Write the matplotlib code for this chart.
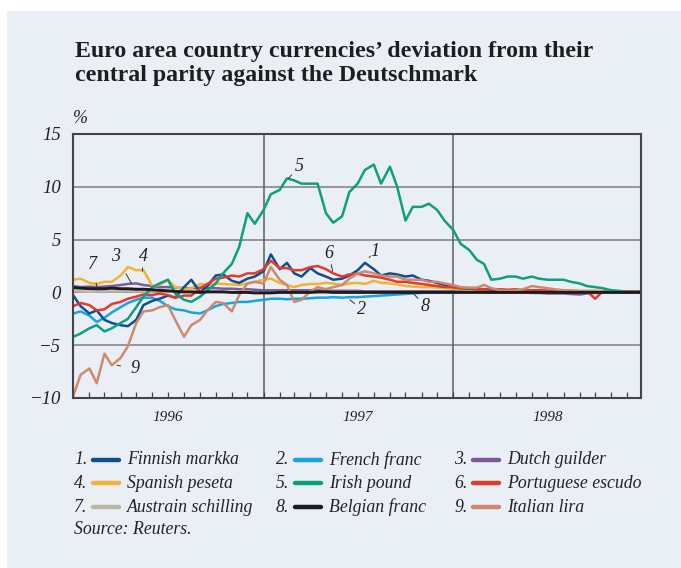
import matplotlib
matplotlib.use("Agg")
import matplotlib.pyplot as plt
import matplotlib.dates as mdates
from matplotlib.patches import Rectangle
import pandas as pd

# Semi-monthly observation dates (1st and 15th of each month)
dates = pd.date_range("1996-01-01", "1999-01-01", freq="SMS")

# Deviation from central parity against the Deutschmark, %
finnish_markka = [
    -0.3, -1.3, -2.0, -1.7, -2.6, -2.9, -3.1, -3.2, -2.6, -1.2,
    -0.8, -0.6, -0.3, -0.5, 0.5, 1.2, 0.0, 0.6, 1.6, 1.7,
    1.1, 0.9, 1.3, 1.5, 2.0, 3.6, 2.2, 2.8, 1.8, 1.5,
    2.3, 1.8, 1.5, 1.2, 1.3, 1.6, 2.1, 2.8, 2.2, 1.6,
    1.8, 1.7, 1.5, 1.6, 1.2, 1.1, 0.9, 0.7, 0.5, 0.4,
    0.35, 0.3, 0.3, 0.25, 0.25, 0.2, 0.2, 0.2, 0.2, 0.15,
    0.15, 0.15, 0.1, 0.1, 0.1, 0.1, 0.05, 0.05, 0.05, 0.05,
    0.05, 0.05, 0.05]
french_franc = [
    -2.0, -1.8, -2.2, -2.8, -2.4, -1.9, -1.4, -1.0, -0.7, -0.5,
    -0.5, -0.8, -1.3, -1.6, -1.7, -1.9, -2.0, -1.7, -1.3, -1.1,
    -1.0, -0.9, -0.9, -0.8, -0.7, -0.6, -0.6, -0.65, -0.6, -0.6,
    -0.55, -0.5, -0.5, -0.45, -0.5, -0.45, -0.45, -0.4, -0.35, -0.3,
    -0.25, -0.2, -0.15, -0.1, -0.05, 0.0, 0.05, 0.05, 0.05, 0.05,
    0.05, 0.05, 0.05, 0.05, 0.05, 0.05, 0.05, 0.05, 0.05, 0.05,
    0.05, 0.05, 0.05, 0.05, 0.05, 0.05, 0.05, 0.05, 0.05, 0.05,
    0.05, 0.05, 0.05]
dutch_guilder = [
    0.6, 0.5, 0.55, 0.5, 0.55, 0.6, 0.7, 0.8, 0.85, 0.7,
    0.6, 0.5, 0.5, 0.45, 0.4, 0.4, 0.45, 0.4, 0.4, 0.35,
    0.35, 0.3, 0.3, 0.25, 0.2, 0.2, 0.2, 0.2, 0.2, 0.2,
    0.2, 0.2, 0.15, 0.15, 0.15, 0.15, 0.15, 0.1, 0.1, 0.1,
    0.1, 0.1, 0.1, 0.1, 0.1, 0.1, 0.1, 0.1, 0.1, 0.1,
    0.05, 0.05, 0.05, 0.0, 0.0, 0.0, 0.0, 0.0, -0.05, -0.05,
    -0.1, -0.1, -0.1, -0.15, -0.2, -0.1, -0.05, 0.0, 0.0, 0.0,
    0.0, 0.0, 0.0]
spanish_peseta = [
    1.2, 1.3, 0.9, 0.8, 1.0, 1.0, 1.6, 2.4, 2.1, 2.1,
    0.6, 0.7, 1.2, 0.5, 0.3, 0.4, 0.8, 0.7, 0.85, 0.8,
    0.75, 0.7, 0.85, 1.0, 1.2, 1.3, 0.9, 0.7, 0.5, 0.7,
    0.8, 0.8, 0.9, 0.85, 0.7, 0.85, 0.9, 0.8, 1.1, 0.9,
    0.85, 0.75, 0.6, 0.55, 0.5, 0.5, 0.45, 0.4, 0.35, 0.3,
    0.3, 0.3, 0.25, 0.25, 0.2, 0.2, 0.2, 0.2, 0.15, 0.15,
    0.15, 0.1, 0.1, 0.1, 0.1, 0.1, 0.05, 0.05, 0.05, 0.05,
    0.05, 0.05, 0.05]
irish_pound = [
    -4.2, -3.9, -3.4, -3.1, -3.7, -3.4, -2.9, -2.5, -1.4, -0.4,
    0.5, 0.85, 1.2, -0.1, -0.7, -0.9, -0.4, 0.2, 0.85, 1.8,
    2.7, 4.3, 7.5, 6.5, 7.8, 9.3, 9.7, 10.8, 10.6, 10.3,
    10.3, 10.3, 7.5, 6.6, 7.2, 9.5, 10.3, 11.6, 12.1, 10.3,
    11.9, 10.0, 6.8, 8.1, 8.1, 8.4, 7.8, 6.8, 5.9, 4.6,
    4.0, 3.1, 2.7, 1.2, 1.3, 1.5, 1.5, 1.3, 1.5, 1.3,
    1.2, 1.2, 1.2, 1.0, 0.85, 0.6, 0.5, 0.4, 0.2, 0.15,
    0.05, 0.05, 0.05]
portuguese_escudo = [
    -1.3, -1.0, -1.2, -1.7, -1.6, -1.1, -0.9, -0.6, -0.4, -0.2,
    -0.25, -0.1, -0.25, -0.5, -0.3, -0.3, 0.4, 0.8, 1.3, 1.4,
    1.6, 1.5, 1.8, 1.8, 2.2, 3.0, 2.3, 2.3, 2.1, 2.1,
    2.4, 2.5, 2.2, 1.8, 1.5, 1.7, 1.8, 1.6, 1.5, 1.4,
    1.2, 1.0, 1.0, 0.9, 0.8, 0.7, 0.6, 0.5, 0.5, 0.4,
    0.4, 0.35, 0.3, 0.3, 0.3, 0.25, 0.3, 0.2, 0.2, 0.2,
    0.15, 0.15, 0.1, 0.15, 0.1, 0.1, -0.6, 0.1, 0.1, 0.1,
    0.1, 0.1, 0.1]
austrian_schilling = [
    0.15, 0.1, 0.05, 0.1, 0.1, 0.1, 0.1, 0.15, 0.1, 0.1,
    0.1, 0.1, 0.05, 0.05, 0.05, 0.05, 0.05, 0.05, 0.05, 0.05,
    0.0, 0.0, 0.0, 0.0, 0.0, 0.0, 0.0, 0.0, 0.0, 0.0,
    0.0, 0.0, 0.0, 0.0, 0.0, 0.0, 0.0, 0.0, 0.0, 0.0,
    0.0, 0.0, 0.0, 0.0, 0.0, 0.0, 0.0, 0.0, 0.0, 0.0,
    0.0, 0.0, 0.0, 0.0, 0.0, 0.0, 0.0, 0.0, 0.0, 0.0,
    0.0, 0.0, 0.0, 0.0, 0.0, 0.0, 0.0, 0.0, 0.0, 0.0,
    0.0, 0.0, 0.0]
belgian_franc = [
    0.45, 0.4, 0.35, 0.35, 0.35, 0.4, 0.35, 0.35, 0.3, 0.3,
    0.25, 0.2, 0.15, 0.1, 0.05, 0.05, 0.0, 0.05, 0.05, 0.05,
    0.0, 0.0, 0.0, -0.05, -0.05, -0.05, 0.0, 0.0, 0.0, 0.0,
    0.0, 0.05, 0.05, 0.0, 0.0, 0.0, 0.0, 0.0, 0.0, 0.0,
    0.0, 0.0, 0.0, 0.0, 0.0, 0.0, 0.0, 0.0, 0.0, 0.0,
    0.0, 0.0, 0.0, 0.0, 0.0, 0.0, 0.0, 0.0, 0.0, 0.0,
    0.0, 0.0, 0.0, 0.0, 0.0, 0.0, 0.0, 0.0, 0.0, 0.0,
    0.0, 0.0, 0.0]
italian_lira = [
    -9.8, -7.8, -7.2, -8.6, -5.8, -6.9, -6.2, -5.1, -2.9, -1.8,
    -1.7, -1.4, -1.2, -2.6, -4.2, -3.1, -2.6, -1.7, -0.9, -1.0,
    -1.8, -0.25, 0.85, 1.0, 0.85, 2.4, 1.2, 0.7, -0.9, -0.7,
    0.1, 0.5, 0.3, 0.5, 0.7, 1.3, 1.8, 2.0, 1.8, 1.6,
    1.5, 1.5, 1.2, 1.2, 1.2, 1.0, 1.0, 0.85, 0.7, 0.5,
    0.45, 0.45, 0.7, 0.4, 0.2, 0.15, 0.2, 0.3, 0.6, 0.5,
    0.4, 0.3, 0.2, 0.2, 0.15, 0.15, 0.15, 0.1, 0.1, 0.05,
    0.05, 0.05, 0.05]

series_names = ["Finnish markka", "French franc", "Dutch guilder",
                "Spanish peseta", "Irish pound", "Portuguese escudo",
                "Austrain schilling", "Belgian franc", "Italian lira"]
series_values = [finnish_markka, french_franc, dutch_guilder,
                 spanish_peseta, irish_pound, portuguese_escudo,
                 austrian_schilling, belgian_franc, italian_lira]
series_colors = ["#0f4f8f", "#1ba2e0", "#7a5a98", "#f2b234", "#0e9f7c",
                 "#e6392b", "#bdb5a5", "#1c1c1c", "#cc8a6f"]
draw_order = [6, 2, 1, 3, 0, 5, 8, 4, 7]

year_labels = ["1996", "1997", "1998"]
y_ticks = [-10, -5, 0, 5, 10, 15]

# Line-label callouts: (label, text date, text value, point date, point value)
callouts = [
    ("5", "1997-03-10", 11.9, "1997-02-18", 10.8),
    ("1", "1997-08-04", 3.9, "1997-07-23", 3.3),
    ("6", "1997-05-06", 3.7, "1997-05-14", 2.0),
    ("2", "1997-07-09", -1.6, "1997-06-16", -0.7),
    ("8", "1997-11-08", -1.3, "1997-10-16", -0.1),
    ("7", "1996-02-06", 2.6, "1996-02-17", 0.2),
    ("3", "1996-03-23", 3.4, "1996-04-22", 0.85),
    ("4", "1996-05-14", 3.4, "1996-05-13", 2.0),
    ("9", "1996-04-28", -7.2, "1996-03-25", -6.9),
]

BG = "#eaeff6"
SERIF = ["Liberation Serif", "DejaVu Serif"]
W, H = 681, 568

fig = plt.figure(figsize=(W / 100, H / 100), dpi=100, facecolor="white")
fig.patches.append(Rectangle((7 / W, 0), 1 - 7 / W, 1 - 11 / H,
                             transform=fig.transFigure, facecolor=BG,
                             edgecolor="none", zorder=-10))


def px(x, y):
    return x / W, 1 - y / H


ax = fig.add_axes([73.3 / W, 1 - 398 / H, (641 - 73.3) / W, (398 - 134) / H])
ax.set_facecolor(BG)

x_start = pd.Timestamp("1996-01-01")
x_end = pd.Timestamp("1998-12-28")
ax.set_xlim(x_start, x_end)
ax.set_ylim(-10, 15)

for y in [-5, 0, 5, 10]:
    ax.axhline(y, color="#8e8e8e", lw=1.3, zorder=1)
for yr in ["1997-01-01", "1998-01-01"]:
    ax.axvline(pd.Timestamp(yr), color="#5c5c5c", lw=1.1, zorder=1)

for i in draw_order:
    lw = 2.1 if i == 7 else 1.8
    ax.plot(dates, series_values[i], color=series_colors[i], lw=lw,
            solid_joinstyle="round", zorder=3 + draw_order.index(i) * 0.1)

for lab, td, tv, pd_, pv in callouts:
    ax.annotate(lab, xy=(pd.Timestamp(pd_), pv),
                xytext=(pd.Timestamp(td), tv), textcoords="data",
                ha="center", va="center", fontsize=13, style="italic",
                family=SERIF, color="#222222", zorder=6,
                arrowprops=dict(arrowstyle="-", color="#333333", lw=0.7,
                                shrinkA=5, shrinkB=0))

for s in ax.spines.values():
    s.set_color("#444444")
    s.set_linewidth(1.5)
    s.set_zorder(5)

# monthly ticks along the bottom edge, pointing inward
ax.xaxis.set_major_locator(mdates.MonthLocator())
ax.xaxis.set_major_formatter(plt.NullFormatter())
ax.tick_params(axis="x", which="major", direction="in", length=4,
               width=0.9, color="#444444", top=False)
ax.set_yticks(y_ticks)
ax.set_yticklabels([str(v).replace("-", "\u2212") for v in y_ticks],
                   family=SERIF, style="italic", fontsize=13.5,
                   color="#222222")
ax.tick_params(axis="y", length=0, pad=9)

for yl in year_labels:
    ax.text(pd.Timestamp(f"{yl}-07-01"), -11.8, yl, ha="center", va="center",
            fontsize=11, style="italic", family=SERIF, color="#222222")

ax.text(0.0, 1.06, "%", transform=ax.transAxes, ha="left", va="center",
        fontsize=13, style="italic", family=SERIF, color="#222222")

fig.text(*px(75, 51), "Euro area country currencies\u2019 deviation from their",
         ha="left", va="center", fontsize=17.2, weight="bold", family=SERIF,
         color="#1e1e1e")
fig.text(*px(75, 76), "central parity against the Deutschmark",
         ha="left", va="center", fontsize=17.2, weight="bold", family=SERIF,
         color="#1e1e1e")

# Legend: three columns of numbered entries
col_x = [74, 276, 454]
row_y = [460, 483, 507]
for i, name in enumerate(series_names):
    r, c = divmod(i, 3)
    x0, y0 = col_x[c], row_y[r]
    fig.text(*px(x0, y0), f"{i + 1}.", ha="left", va="center", fontsize=12.8,
             style="italic", family=SERIF, color="#222222")
    fig.add_artist(plt.Line2D([(x0 + 19) / W, (x0 + 45) / W],
                              [1 - y0 / H, 1 - y0 / H],
                              color=series_colors[i], lw=3.2,
                              solid_capstyle="round"))
    fig.text(*px(x0 + 53, y0), name, ha="left", va="center", fontsize=12.8,
             style="italic", family=SERIF, color="#222222")
fig.text(*px(74, 530), "Source: Reuters.", ha="left", va="center",
         fontsize=12.8, style="italic", family=SERIF, color="#222222")

fig.savefig("out.png", dpi=100, facecolor="white")
